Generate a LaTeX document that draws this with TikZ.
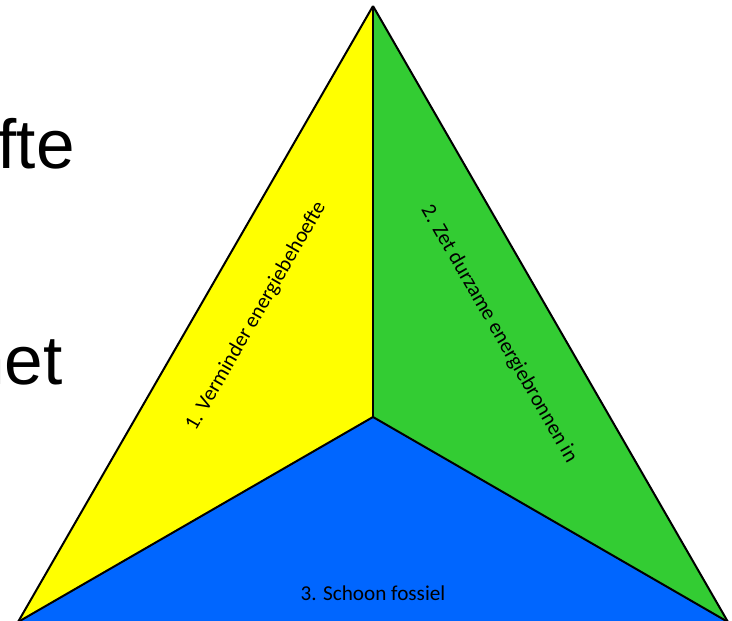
\documentclass[tikz,border=0pt]{standalone}
\usepackage{fontspec}
\setmainfont{Carlito}
\newfontfamily\arialfont{Liberation Sans}
\definecolor{yel}{RGB}{255,255,0}
\definecolor{grn}{RGB}{51,204,51}
\definecolor{blu}{RGB}{0,102,255}
\begin{document}
\begin{tikzpicture}[x=0.75pt,y=-0.75pt,
  edge/.style={draw=black,line width=1.5pt,line join=round},
  label/.style={inner sep=0pt,font=\fontsize{15.9}{19}\selectfont},
  bigtext/.style={inner sep=0pt,font=\arialfont\fontsize{52}{60}\selectfont}]
\useasboundingbox (0,0) rectangle (732,621);
\clip (0,0) rectangle (732,621);
\coordinate (A) at (373,6);
\coordinate (C) at (373,417);
\coordinate (L) at (18,622);
\coordinate (R) at (728,622);
\fill[yel] (A) -- (C) -- (L) -- cycle;
\fill[grn] (A) -- (R) -- (C) -- cycle;
\fill[blu] (C) -- (R) -- (L) -- cycle;
\draw[edge] (A) -- (L);
\draw[edge] (A) -- (R);
\draw[edge] (A) -- (C);
\draw[edge] (C) -- (L);
\draw[edge] (C) -- (R);
\draw[edge] (L) -- (R);
\node[label,rotate=60] (t1) at (256,316) {1. Verminder energiebehoefte};
\node[label,rotate=-60] (t2) at (499,334) {2. Zet durzame energiebronnen in};
\node[label] (t3) at (373,593) {3. Schoon fossiel};
\node[bigtext,anchor=base east] (b1) at (75,168) {hoefte};
\node[bigtext,anchor=base east] (b2) at (63,384) {net};
\end{tikzpicture}
\end{document}
